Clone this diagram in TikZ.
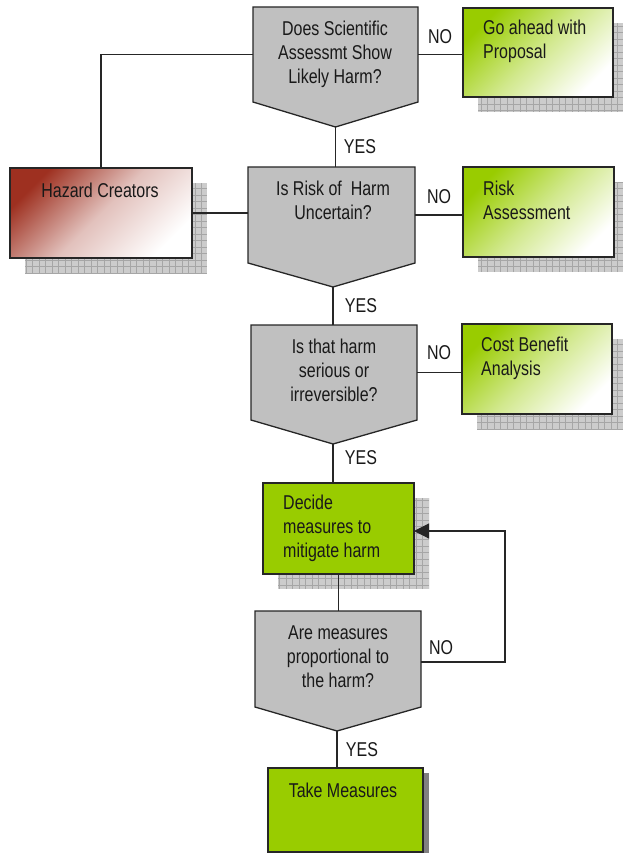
\documentclass[tikz,border=0pt]{standalone}
\usepackage{fontspec}
\setmainfont{Liberation Sans}[FakeStretch=0.8]
\usetikzlibrary{calc,arrows.meta,backgrounds}
\definecolor{lime}{RGB}{153,204,0}
\definecolor{decgray}{RGB}{192,192,192}
\definecolor{hazred}{RGB}{158,48,32}
\definecolor{shgray}{RGB}{204,204,204}
\begin{document}
\begin{tikzpicture}[x=1pt,y=-1pt,
  decn/.style={draw=none, inner sep=0pt, outer sep=0pt},
  decshape/.style={fill=decgray, draw=black!85, line width=1.3pt, line join=miter},
  rbox/.style={draw=black!85, line width=1.3pt, inner sep=0pt, outer sep=0pt},
  gshade/.style={rbox, top color=lime, bottom color=white, middle color=lime!45!white, shading angle=45},
  hshade/.style={rbox, top color=hazred, bottom color=white, middle color=hazred!30!white, shading angle=45},
  solid/.style={rbox, fill=lime},
  sh/.style={fill=shgray, path picture={\draw[black!35, line width=0.5pt, step=6.5pt] (path picture bounding box.south west) grid (path picture bounding box.north east);}},
  txt/.style={font=\fontsize{20}{24}\selectfont, align=center, inner sep=0pt, text=black!90},
  txtl/.style={font=\fontsize{20}{24}\selectfont, align=left, inner sep=0pt, text=black!90},
  lbl/.style={font=\fontsize{20}{24}\selectfont, inner sep=0pt, text=black!90},
  conn/.style={line width=1.1pt, draw=black!85}
]
\useasboundingbox (0,0) rectangle (623,853);

% decision shapes
\node[decn, minimum width=165pt, minimum height=95pt] (d1) at (335.5,54.5) {};
\coordinate (d1p) at ($(d1.south)+(0,25)$);
\filldraw[decshape] (d1.north west) -- (d1.north east) -- (d1.south east) -- (d1p) -- (d1.south west) -- cycle;
\node[txt] (t1) at (335,54) {Does Scientific\\Assessmt Show\\Likely Harm?};

\node[decn, minimum width=167pt, minimum height=96pt] (d2) at (331.5,215) {};
\coordinate (d2p) at ($(d2.south)+(1.5,24)$);
\filldraw[decshape] (d2.north west) -- (d2.north east) -- (d2.south east) -- (d2p) -- (d2.south west) -- cycle;
\node[txt] (t2) at (333,200.5) {Is Risk of~ Harm\\Uncertain?};

\node[decn, minimum width=166pt, minimum height=95pt] (d3) at (334,372.5) {};
\coordinate (d3p) at ($(d3.south)+(-1,24)$);
\filldraw[decshape] (d3.north west) -- (d3.north east) -- (d3.south east) -- (d3p) -- (d3.south west) -- cycle;
\node[txt] (t3) at (334,370) {Is that harm\\serious or\\irreversible?};

\node[decn, minimum width=166pt, minimum height=96pt] (d5) at (338,659) {};
\coordinate (d5p) at ($(d5.south)+(-1,24)$);
\filldraw[decshape] (d5.north west) -- (d5.north east) -- (d5.south east) -- (d5p) -- (d5.south west) -- cycle;
\node[txt] (t5) at (338,657) {Are measures\\proportional to\\the harm?};

% boxes
\node[gshade, minimum width=150pt, minimum height=89pt] (g1) at (538,52.5) {};
\node[txtl, anchor=west] (g1t) at (483,41.5) {Go ahead with\\Proposal};
\node[gshade, minimum width=151pt, minimum height=90pt] (g2) at (538.5,212) {};
\node[txtl, anchor=west] (g2t) at (483,200.5) {Risk\\Assessment};
\node[gshade, minimum width=150pt, minimum height=90pt] (g3) at (537,369) {};
\node[txtl, anchor=west] (g3t) at (481,358.5) {Cost Benefit\\Analysis};
\node[hshade, minimum width=182pt, minimum height=90pt] (haz) at (101,213) {};
\node[txt] (hazt) at (100,190) {Hazard Creators};
\node[solid, minimum width=151pt, minimum height=91pt] (dec) at (338.5,528.5) {};
\node[txtl, anchor=west] (dect) at (283,528.5) {Decide\\measures to\\mitigate harm};
\node[solid, minimum width=155pt, minimum height=84pt] (take) at (345.5,810) {};
\node[txt] (taket) at (343,790) {Take Measures};

% shadows
\begin{scope}[on background layer]
  \path[sh] ($(g1.south west)+(15,15)$) rectangle ($(g1.north east)+(15,15)$);
  \path[sh] ($(g2.south west)+(15,15)$) rectangle ($(g2.north east)+(15,15)$);
  \path[sh] ($(g3.south west)+(15,15)$) rectangle ($(g3.north east)+(15,15)$);
  \path[sh] ($(haz.south west)+(15,15)$) rectangle ($(haz.north east)+(15,15)$);
  \path[sh] ($(dec.south west)+(15,15)$) rectangle ($(dec.north east)+(15,15)$);
  \fill[black!50] ($(take.north east)+(0,5)$) rectangle ($(take.south east)+(6,5)$);
\end{scope}

% connectors
\draw[conn] (d1.west) -| (haz.north);
\draw[conn] (haz.east) -- (haz.east -| d2.west);
\draw[conn] (d1.east) -- (d1.east -| g1.west);
\draw[conn] (d2.east) -- (d2.east -| g2.west);
\draw[conn] (d3.east) -- (d3.east -| g3.west);
\draw[conn] (d1p) -- (d1p |- d2.north);
\draw[conn] (d2p) -- (d2p |- d3.north);
\draw[conn] (d3p) -- (d3p |- dec.north);
\draw[conn] (dec.south) -- (dec.south |- d5.north);
\coordinate (loop) at (505,531);
\draw[conn, -{Triangle[length=15pt,width=15pt]}] ($(d5.east)+(0,3)$) -| (loop) -- (loop -| dec.east);
\draw[conn] (d5p) -- (d5p |- take.north);

% labels
\node[lbl] (no1) at (440,37) {NO};
\node[lbl] (yes1) at (360,147) {YES};
\node[lbl] (no2) at (439,197) {NO};
\node[lbl] (yes2) at (361,306) {YES};
\node[lbl] (no3) at (439,353) {NO};
\node[lbl] (yes3) at (361,458) {YES};
\node[lbl] (no5) at (441,648) {NO};
\node[lbl] (yes5) at (362,750) {YES};
\end{tikzpicture}
\end{document}
